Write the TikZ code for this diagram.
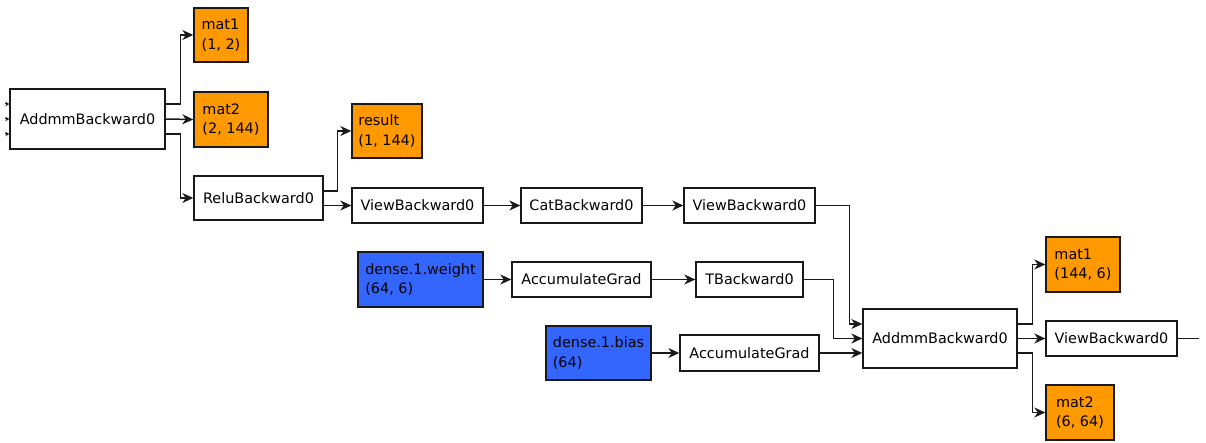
\documentclass[tikz,border=0pt]{standalone}
\usepackage{fontspec}
\setmainfont{DejaVu Sans}
\usetikzlibrary{arrows.meta}
\definecolor{leaf}{RGB}{255,153,0}
\definecolor{param}{RGB}{51,102,255}
\definecolor{edge}{RGB}{25,25,25}
\tikzset{
  op/.style={draw=edge, line width=1.4pt, fill=white, inner sep=0pt, font=\fontsize{14.4}{19.5}\selectfont},
  tensor/.style={op, fill=leaf, align=left},
  weight/.style={op, fill=param, align=left},
  arr/.style={draw=edge, line width=1.5pt, -{Stealth[length=11pt,width=10pt,inset=3.5pt]}},
  wire/.style={draw=edge, line width=1.5pt},
  stub/.style={draw=edge, line width=1pt, -{Stealth[length=4pt,width=4.5pt]}},
}
\newcommand{\gnode}[7]{\node[#1, minimum width=#4pt, minimum height=#5pt] (#2) at (#3) {#6};}
\begin{document}
\begin{tikzpicture}[x=1pt, y=-1pt]
\useasboundingbox (0,0) rectangle (1206,443);

% first linear layer
\gnode{op}{a1}{87.5,119}{155}{60}{AddmmBackward0}{}
\gnode{tensor}{m1a}{221,35}{54}{54}{mat1\\(1, 2)}{}
\gnode{tensor}{m2a}{231,119.5}{74}{55}{mat2\\(2, 144)}{}
\gnode{op}{relu}{258.5,198}{129}{44}{ReluBackward0}{}
\gnode{tensor}{res}{387,131}{70}{54}{result\\(1, 144)}{}

% reshape chain
\gnode{op}{v1}{417.5,205.5}{131}{35}{ViewBackward0}{}
\gnode{op}{cat}{581.5,205.5}{121}{35}{CatBackward0}{}
\gnode{op}{v2}{749.5,205.5}{131}{35}{ViewBackward0}{}

% parameters of dense.1
\gnode{weight}{dw}{420.5,279.5}{125}{55}{dense.1.weight\\(64, 6)}{}
\gnode{op}{ag1}{581.5,279.5}{139}{35}{AccumulateGrad}{}
\gnode{op}{tb}{749.5,279.5}{107}{35}{TBackward0}{}
\gnode{weight}{db}{598.5,353}{105}{54}{dense.1.bias\\(64)}{}
\gnode{op}{ag2}{749.5,353}{139}{36}{AccumulateGrad}{}

% second linear layer
\gnode{op}{a2}{940,338.5}{154}{59}{AddmmBackward0}{}
\gnode{tensor}{m1b}{1083,264.5}{74}{55}{mat1\\(144, 6)}{}
\gnode{op}{v3}{1111.5,338.5}{131}{35}{ViewBackward0}{}
\gnode{tensor}{m2b}{1080,412.5}{68}{55}{mat2\\(6, 64)}{}

% incoming stubs on the left
\foreach \s [count=\i] in {15,0,-15} {
  \coordinate (in\i) at ([xshift=-4pt,yshift=\s pt]a1.west);
  \draw[stub] (in\i) -- ([yshift=\s pt]a1.west);
}

% edges of the first layer
\draw[arr] ([yshift=15pt]a1.east) -- ++(15,0) |- (m1a.west);
\draw[arr] (a1.east) -- (m2a.west);
\draw[arr] ([yshift=-15pt]a1.east) -- ++(15,0) |- (relu.west);
\draw[arr] ([yshift=7pt]relu.east) -- ++(14,0) |- (res.west);
\draw[arr] (relu.east |- v1.west) -- (v1.west);
\draw[arr] (v1) -- (cat);
\draw[arr] (cat) -- (v2);

% into the second layer
\draw[arr] (v2.east) -- ++(34,0) |- ([yshift=14.5pt]a2.west);
\draw[arr] (dw) -- (ag1);
\draw[arr] (ag1) -- (tb);
\draw[arr] (tb.east) -- ++(30,0) |- (a2.west);
\draw[arr] (db.east |- ag2.west) -- (ag2.west);
\draw[arr] (ag2.east) -- (a2.west |- ag2.east);

% outputs of the second layer
\draw[arr] ([yshift=14.5pt]a2.east) -- ++(15,0) |- (m1b.west);
\draw[arr] (a2.east) -- (v3.west);
\draw[arr] ([yshift=-14.5pt]a2.east) -- ++(15,0) |- (m2b.west);
\coordinate (out) at ([xshift=21pt]v3.east);
\draw[wire] (v3.east) -- (out);
\end{tikzpicture}
\end{document}
